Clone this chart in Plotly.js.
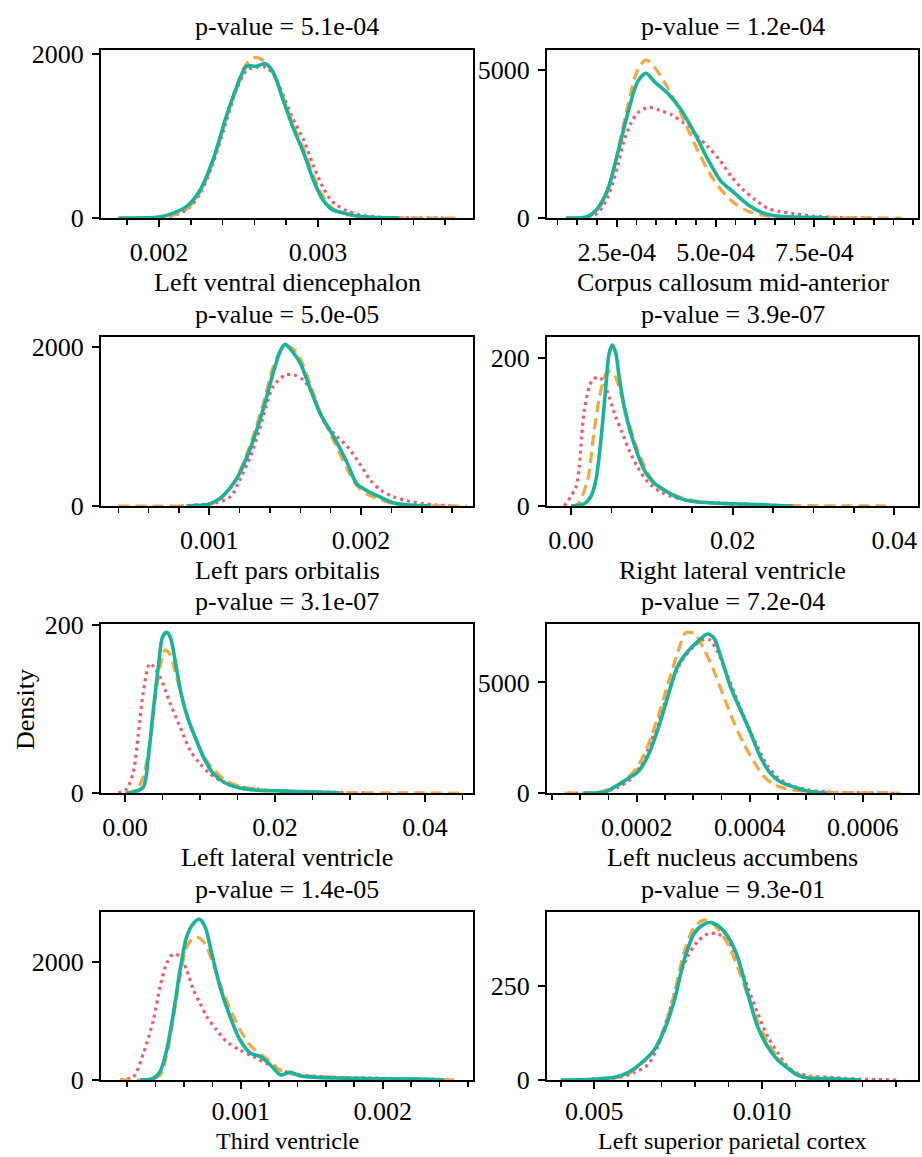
<!DOCTYPE html>
<html><head><meta charset="utf-8">
<script src="https://cdn.plot.ly/plotly-3.0.1.min.js"></script>
<style>html,body{margin:0;padding:0;background:#fff}#chart{width:922px;height:1157px}</style>
</head><body><div id="chart"></div>
<script>
// ---------- labels ----------
const regions = ["Left ventral diencephalon","Corpus callosum mid-anterior","Left pars orbitalis","Right lateral ventricle",
                 "Left lateral ventricle","Left nucleus accumbens","Third ventricle","Left superior parietal cortex"];
const pValues = ["5.1e-04","1.2e-04","5.0e-05","3.9e-07","3.1e-07","7.2e-04","1.4e-05","9.3e-01"];
const xTickVals = [[0.002,0.003],[2.5e-4,5e-4,7.5e-4],[0.001,0.002],[0,0.02,0.04],[0,0.02,0.04],[0.0002,0.0004,0.0006],[0.001,0.002],[0.005,0.010]];
const xTickText = [["0.002","0.003"],["2.5e-04","5.0e-04","7.5e-04"],["0.001","0.002"],["0.00","0.02","0.04"],["0.00","0.02","0.04"],["0.0002","0.0004","0.0006"],["0.001","0.002"],["0.005","0.010"]];
const yTickVals = [[0,2000],[0,5000],[0,2000],[0,200],[0,200],[0,5000],[0,2000],[0,250]];

// ---------- density curves (teal solid, orange dashed, red dotted) ----------
const vdTealX = [0.00175,0.0020,0.00209,0.00218,0.00226,0.00234,0.00242,0.00249,0.00255,0.00261,0.00267,0.00272,0.00278,0.00284,0.00291,0.00297,0.00303,0.00309,0.00318,0.00326,0.00337,0.00351];
const vdTealY = [0,12,60,150,345,711,1220,1605,1850,1850,1882,1768,1443,1118,793,467,224,102,53,20,4,0];
const vdOrangeX = [0.00174,0.0020,0.0021,0.00218,0.00226,0.00234,0.00242,0.00249,0.00255,0.00261,0.00267,0.00272,0.00278,0.00284,0.00291,0.00297,0.00303,0.00309,0.00318,0.00326,0.0034,0.0036,0.0039];
const vdOrangeY = [0,8,40,120,320,700,1200,1620,1880,1960,1900,1780,1470,1150,840,520,270,120,50,20,5,0,0];
const vdRedX = [0.0018,0.0020,0.0021,0.00218,0.00226,0.00234,0.00242,0.00249,0.00255,0.00261,0.00267,0.00272,0.00278,0.00284,0.00291,0.00297,0.00303,0.00309,0.00318,0.00326,0.0034,0.0036,0.0038];
const vdRedY = [0,5,35,110,300,670,1160,1580,1800,1840,1840,1750,1500,1220,950,640,380,200,90,40,8,2,0];

const ccTealX = [1.22e-4,1.765e-4,2.02e-4,2.27e-4,2.525e-4,2.78e-4,3.03e-4,3.24e-4,3.45e-4,3.79e-4,4.13e-4,4.47e-4,4.81e-4,5.14e-4,5.48e-4,5.82e-4,6.16e-4,6.5e-4,7.0e-4,7.5e-4,7.85e-4];
const ccTealY = [0,56,337,955,2191,3539,4607,4888,4607,4213,3652,2865,1966,1236,843,449,191,79,34,22,0];
const ccOrangeX = [1.22e-4,1.765e-4,2.02e-4,2.27e-4,2.525e-4,2.78e-4,3.03e-4,3.24e-4,3.45e-4,3.79e-4,4.13e-4,4.47e-4,4.81e-4,5.14e-4,5.48e-4,5.82e-4,6.16e-4,6.5e-4,7.0e-4,7.85e-4,9.7e-4];
const ccOrangeY = [0,30,280,900,2250,3800,5000,5340,5100,4400,3500,2500,1600,950,500,230,100,40,15,5,0];
const ccRedX = [1.6e-4,2.0e-4,2.27e-4,2.525e-4,2.69e-4,2.86e-4,3.03e-4,3.3e-4,3.6e-4,3.9e-4,4.2e-4,4.5e-4,4.8e-4,5.1e-4,5.4e-4,5.7e-4,6.0e-4,6.3e-4,6.6e-4,7.0e-4,7.5e-4,8.0e-4,8.5e-4,9.0e-4];
const ccRedY = [0,150,700,1750,2640,3200,3550,3740,3630,3480,3200,2810,2415,1966,1400,955,618,337,225,146,56,20,5,0];

const poTealX = [0.00085,0.001,0.00107,0.00116,0.00122,0.00129,0.00136,0.00142,0.00147,0.0015,0.00154,0.0016,0.00166,0.00173,0.00182,0.00191,0.00197,0.00204,0.00213,0.00221,0.00232,0.00246];
const poTealY = [0,25,96,285,494,828,1247,1665,1958,2029,1958,1791,1498,1163,870,536,285,192,109,42,13,0];
const poOrangeX = [0.0004,0.0008,0.001,0.00107,0.00116,0.00122,0.00129,0.00136,0.00142,0.00147,0.00152,0.00156,0.0016,0.00166,0.00173,0.00182,0.00191,0.00197,0.00204,0.00213,0.00221,0.0023,0.0024,0.0027];
const poOrangeY = [0,0,20,85,290,520,880,1320,1740,1940,2000,1960,1850,1560,1180,820,460,260,150,80,30,10,3,0];
const poRedX = [0.00081,0.00105,0.00114,0.0012,0.00127,0.00133,0.00138,0.00142,0.0015,0.00156,0.00162,0.00169,0.00175,0.00182,0.00191,0.00199,0.00206,0.00213,0.00221,0.0023,0.00243,0.00261];
const poRedY = [0,42,117,326,620,954,1289,1498,1644,1644,1582,1372,1079,912,745,536,326,200,117,67,25,0];

const rlTealX = [0.0,0.00164,0.00246,0.00308,0.0037,0.00431,0.00472,0.00513,0.00554,0.00596,0.00657,0.00739,0.00821,0.00904,0.01027,0.01191,0.01355,0.0152,0.01766,0.02012,0.02341,0.02546,0.0275];
const rlTealY = [0,3,13,35,89,161,206,217,206,174,134,98,71,49,31,19,10,6,4,3,2,0.5,0];
const rlOrangeX = [0.0,0.00082,0.00205,0.00287,0.0037,0.00452,0.00534,0.00616,0.00698,0.0078,0.00883,0.01006,0.0115,0.01314,0.0152,0.01766,0.02012,0.02341,0.0275,0.0398];
const rlOrangeY = [0,2,35,102,156,181,177,152,120,89,60,35,22,13,7,4,2,1,0.5,0];
const rlRedX = [-0.00082,0.00062,0.00103,0.00131,0.00164,0.00226,0.00267,0.00329,0.0039,0.00472,0.00554,0.00637,0.00719,0.00821,0.00945,0.01109,0.01273,0.0152,0.01848,0.02177,0.02546,0.02752];
const rlRedY = [0,26,53,93,129,161,170,174,170,147,120,98,75,53,33,19,12,6,4,2,1,0];

const llTealX = [0.0002,0.00111,0.00244,0.00311,0.00378,0.00444,0.00502,0.00556,0.00609,0.00667,0.00756,0.00844,0.00933,0.01044,0.01178,0.01356,0.01533,0.018,0.02067,0.02333,0.02778,0.0287];
const llTealY = [0,1,7,43,99,150,186,191,184,158,115,87,67,43,23,11,6,3,2.5,1.6,0.4,0];
const llOrangeX = [0.0,0.00156,0.00244,0.00333,0.004,0.00467,0.00533,0.006,0.00667,0.00756,0.00844,0.00933,0.01044,0.01178,0.01356,0.01533,0.018,0.02067,0.02333,0.02778,0.0447];
const llOrangeY = [0,4,20,60,110,150,170,165,145,115,88,66,45,28,14,8,4,2.5,1.5,0.5,0];
const llRedX = [-0.00089,0.00022,0.00111,0.00178,0.00244,0.00333,0.00467,0.006,0.00733,0.00867,0.01,0.01133,0.01311,0.01489,0.01711,0.01978,0.02333,0.02778,0.0322];
const llRedY = [0,5,25,70,120,154,138,107,79,51,35,23,13,8,5,3,1.5,0.8,0];

const naTealX = [0.0001076,0.000143,0.000166,0.000184,0.000202,0.000219,0.000237,0.000255,0.000272,0.00029,0.000308,0.000325,0.000337,0.000349,0.000366,0.000384,0.000402,0.000419,0.000437,0.000455,0.000478,0.000502,0.000525,0.000537];
const naTealY = [0,45,347,650,952,1631,2840,4350,5710,6390,6843,7190,6994,6163,4804,3746,2689,1631,876,498,272,91,15,0];
const naOrangeX = [0.0000724,0.000125,0.000155,0.000184,0.000202,0.000219,0.000237,0.000255,0.000272,0.000287,0.000302,0.000319,0.000337,0.000355,0.000372,0.00039,0.000408,0.000425,0.000443,0.000466,0.000502,0.000549,0.000666];
const naOrangeY = [0,15,200,700,1200,2100,3400,4900,6300,7250,7200,6500,5500,4300,3200,2200,1400,750,380,180,70,20,0];
const naRedX = [0.0000782,0.000137,0.000166,0.00019,0.000208,0.000225,0.000243,0.000261,0.000278,0.000296,0.000314,0.000328,0.000343,0.000361,0.000378,0.000396,0.000414,0.000431,0.000449,0.000472,0.000502,0.000537,0.000596,0.000655];
const naRedY = [0,30,250,650,1300,2300,3600,4900,5900,6500,6900,6950,6400,5300,4200,3100,2100,1250,700,350,150,50,10,0];

const tvTealX = [0.000291,0.000385,0.000432,0.000479,0.000526,0.000573,0.00062,0.000667,0.000709,0.000749,0.000796,0.000854,0.000925,0.000995,0.00107,0.00114,0.00121,0.00128,0.00135,0.00142,0.00154,0.00165,0.00189,0.00212,0.00231,0.00243];
const tvTealY = [0,28,141,507,1127,1859,2423,2648,2716,2592,2141,1578,1070,676,451,394,254,85,130,68,45,34,23,17,11,0];
const tvOrangeX = [0.00015,0.000338,0.000432,0.000479,0.000526,0.000573,0.00062,0.000667,0.000702,0.000749,0.000808,0.000866,0.000925,0.000995,0.00107,0.00114,0.00121,0.00128,0.00135,0.00146,0.00165,0.00189,0.00212,0.00236,0.00252];
const tvOrangeY = [0,10,80,420,1050,1750,2250,2400,2410,2300,1950,1550,1200,850,580,430,310,160,110,70,45,25,15,8,0];
const tvRedX = [0.00015,0.000244,0.000315,0.000385,0.000432,0.000479,0.000526,0.000573,0.00062,0.000667,0.000714,0.000761,0.000831,0.000901,0.000995,0.00109,0.00118,0.00128,0.00137,0.00151,0.00165,0.00189,0.00212,0.00236,0.0025];
const tvRedY = [0,56,450,1014,1578,1972,2130,2085,1859,1521,1296,1070,845,648,507,394,282,169,101,68,45,34,23,11,0];

const spTealX = [0.004,0.005,0.0056,0.00599,0.00639,0.00679,0.00709,0.00739,0.00768,0.00798,0.00828,0.00848,0.00873,0.00898,0.00927,0.00957,0.00987,0.01017,0.01047,0.01077,0.01106,0.01146,0.01196,0.01246,0.01295];
const spTealY = [0,2,7,19,44,80,133,212,318,389,413,417,406,380,327,230,141,88,53,31,13,4,4,2,0];
const spOrangeX = [0.0045,0.0056,0.00599,0.00639,0.00679,0.00709,0.00739,0.00768,0.00798,0.00828,0.00848,0.00873,0.00898,0.00927,0.00957,0.00987,0.01017,0.01047,0.01077,0.01106,0.01146,0.012,0.0125];
const spOrangeY = [0,5,15,42,80,140,230,340,405,424,418,395,360,300,225,155,100,60,32,15,7,3,0];
const spRedX = [0.0045,0.0052,0.0058,0.00619,0.00659,0.00689,0.00719,0.00748,0.00778,0.00808,0.00838,0.00868,0.00898,0.00927,0.00957,0.00987,0.01017,0.01047,0.01077,0.01106,0.01146,0.012,0.0125,0.013,0.014];
const spRedY = [0,4,8,20,40,88,168,256,327,367,387,387,367,318,247,177,115,71,35,18,10,7,4,2,0];

const panelData = [
  [vdTealX,vdTealY,vdOrangeX,vdOrangeY,vdRedX,vdRedY],
  [ccTealX,ccTealY,ccOrangeX,ccOrangeY,ccRedX,ccRedY],
  [poTealX,poTealY,poOrangeX,poOrangeY,poRedX,poRedY],
  [rlTealX,rlTealY,rlOrangeX,rlOrangeY,rlRedX,rlRedY],
  [llTealX,llTealY,llOrangeX,llOrangeY,llRedX,llRedY],
  [naTealX,naTealY,naOrangeX,naOrangeY,naRedX,naRedY],
  [tvTealX,tvTealY,tvOrangeX,tvOrangeY,tvRedX,tvRedY],
  [spTealX,spTealY,spOrangeX,spOrangeY,spRedX,spRedY]
];

// ---------- view settings ----------
const xRanges = [[0.001635,0.003975],[0.736e-4,10.12e-4],[0.000286,0.002738],[-0.00297,0.04293],[-0.0032,0.0464],[0.0000412,0.000698],[0.0000162,0.002636],[0.00359,0.01465]];
const yRanges = [[0,2049],[0,5676],[0,2122],[0,228],[0,201],[0,7643],[0,2840],[0,445]];
const minorDtick = [0.0002,5e-5,0.0002,0.005,0.005,0.00005,0.0002,0.001];

const W = 922, H = 1157;
const colPx = [[101,473],[547,918]];
const rowPx = [[50,218],[337,506],[624,793],[912,1080]];
const titleOffset = [64,64,64,61];
const titleSize = [26,26,26,24];
const tickStandoff = [3,3,3,0];
const FONT = "Liberation Serif";
const FS = 26;
const TEAL = "#19b29b", ORANGE = "#f6a742", RED = "#f25a6a";

const traces = [];
const layout = {
  width: W, height: H, margin: {l:0,r:0,t:0,b:0},
  paper_bgcolor: "#fff", plot_bgcolor: "#fff",
  font: {family: FONT, size: FS, color: "#000"},
  showlegend: false, annotations: []
};

for (let i = 0; i < 8; i++) {
  const col = i % 2, row = Math.floor(i / 2);
  const xs = i === 0 ? "" : String(i + 1);
  const d = panelData[i];
  const common = {type: "scatter", mode: "lines", xaxis: "x" + xs, yaxis: "y" + xs, hoverinfo: "skip"};
  traces.push(Object.assign({}, common, {x: d[4], y: d[5], line: {color: RED, width: 3.2, dash: "3px,4px", shape: "spline", smoothing: 0.8}}));
  traces.push(Object.assign({}, common, {x: d[2], y: d[3], line: {color: ORANGE, width: 3.2, dash: "11px,6px", shape: "spline", smoothing: 0.8}}));
  traces.push(Object.assign({}, common, {x: d[0], y: d[1], line: {color: TEAL, width: 3.6, shape: "spline", smoothing: 0.8}}));

  const xd = [colPx[col][0] / W, colPx[col][1] / W];
  const yd = [1 - rowPx[row][1] / H, 1 - rowPx[row][0] / H];
  const axBase = {showline: true, linecolor: "#000", linewidth: 2, mirror: true, showgrid: false, zeroline: false,
                  ticks: "outside", ticklen: 7, tickwidth: 2, tickcolor: "#000", tickfont: {family: FONT, size: FS, color: "#000"}};
  layout["xaxis" + xs] = Object.assign({}, axBase, {
    domain: xd, range: xRanges[i], anchor: "y" + xs, tickmode: "array",
    tickvals: xTickVals[i], ticktext: xTickText[i], ticklabelstandoff: tickStandoff[row],
    minor: {ticks: "outside", ticklen: 5, tickwidth: 1.6, tickcolor: "#000", tick0: 0, dtick: minorDtick[i], showgrid: false}
  });
  layout["yaxis" + xs] = Object.assign({}, axBase, {
    domain: yd, range: yRanges[i], anchor: "x" + xs, tickmode: "array",
    tickvals: yTickVals[i], ticktext: yTickVals[i].map(String), ticklabelstandoff: 3
  });

  const cx = (xd[0] + xd[1]) / 2;
  layout.annotations.push({text: "p-value = " + pValues[i], xref: "paper", yref: "paper", x: cx,
    y: 1 - (rowPx[row][0] - 23) / H, xanchor: "center", yanchor: "middle", showarrow: false,
    font: {family: FONT, size: FS, color: "#000"}});
  layout.annotations.push({text: regions[i], xref: "paper", yref: "paper", x: cx,
    y: 1 - (rowPx[row][1] + titleOffset[row]) / H, xanchor: "center", yanchor: "middle", showarrow: false,
    font: {family: FONT, size: titleSize[row], color: "#000"}});
}
layout.annotations.push({text: "Density", xref: "paper", yref: "paper", x: 25 / W, y: 1 - 710 / H,
  xanchor: "center", yanchor: "middle", textangle: -90, showarrow: false, font: {family: FONT, size: FS, color: "#000"}});

Plotly.newPlot("chart", traces, layout, {staticPlot: true, displayModeBar: false});
</script>
</body></html>
